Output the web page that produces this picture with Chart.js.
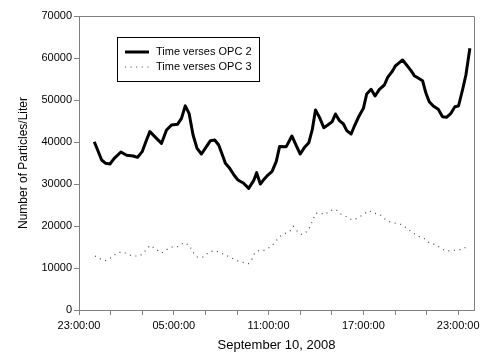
<!DOCTYPE html>
<html>
<head>
<meta charset="utf-8">
<script src="https://cdn.jsdelivr.net/npm/chart.js@4/dist/chart.umd.min.js"></script>
<style>
  html, body { margin: 0; padding: 0; background: #fff; }
  #wrap { width: 485px; height: 360px; }
</style>
</head>
<body>
<div id="wrap"><canvas id="chart" width="485" height="360"></canvas></div>
<script>
// horas contadas desde las 23:00 del día anterior
const horasOpc2 = [0.966, 1.434, 1.686, 1.958, 2.229, 2.653, 3.013, 3.430, 3.707, 3.998,
  4.232, 4.484, 4.907, 5.223, 5.539, 5.855, 6.234, 6.486, 6.726, 6.966,
  7.219, 7.472, 7.750, 8.065, 8.318, 8.590, 8.842, 9.076, 9.265, 9.537,
  9.808, 10.061, 10.421, 10.737, 11.053, 11.242, 11.476, 11.684, 11.956, 12.221,
  12.487, 12.695, 13.118, 13.472, 13.750, 14.002, 14.274, 14.546, 14.760, 14.969,
  15.221, 15.493, 15.746, 16.024, 16.232, 16.485, 16.737, 16.946, 17.224, 17.432,
  17.684, 18.000, 18.209, 18.487, 18.739, 19.011, 19.327, 19.535, 19.813, 20.021,
  20.274, 20.482, 20.735, 21.013, 21.221, 21.493, 21.745, 21.960, 22.168, 22.421,
  22.737, 23.008, 23.261, 23.539, 23.792, 24.019, 24.272, 24.487, 24.739]
const valoresOpc2 = [40070, 35710, 34920, 34760, 36110, 37620, 36830, 36670, 36350, 37700,
  40070, 42460, 40870, 39680, 42860, 44050, 44210, 45630, 48600, 46830,
  41670, 38490, 37140, 38890, 40310, 40480, 39290, 36900, 34920, 33730,
  32140, 30950, 30170, 28970, 30790, 32700, 30000, 31000, 32140, 33000,
  35400, 38900, 38890, 41430, 39130, 37140, 38730, 39840, 42860, 47620,
  45870, 43410, 44050, 44840, 46670, 45070, 44290, 42700, 41900, 43810,
  45870, 48020, 51430, 52540, 50950, 52540, 53570, 55400, 56750, 58100,
  58890, 59520, 58330, 56980, 55790, 55160, 54600, 51590, 49600, 48570,
  47780, 46030, 45870, 46830, 48410, 48570, 52380, 55950, 62300]

const horasOpc3 = [1.011, 1.371, 1.724, 2.084, 2.444, 2.798, 3.158, 3.518, 3.853, 4.168,
  4.503, 4.863, 5.223, 5.577, 5.937, 6.297, 6.632, 6.992, 7.181, 7.516,
  7.876, 8.230, 8.590, 8.950, 9.303, 9.644, 9.998, 10.358, 10.718, 10.971,
  11.135, 11.388, 11.747, 12.108, 12.398, 12.676, 13.055, 13.345, 13.560, 13.876,
  14.129, 14.482, 14.672, 14.823, 14.950, 15.221, 15.556, 15.897, 16.251, 16.567,
  16.926, 17.287, 17.621, 17.981, 18.335, 18.695, 19.055, 19.390, 19.750, 20.084,
  20.444, 20.779, 21.139, 21.493, 21.834, 22.188, 22.529, 22.863, 23.198, 23.558,
  23.918, 24.272, 24.632]
const valoresOpc3 = [12860, 12140, 11740, 12620, 13650, 13810, 13100, 12860, 12860, 13970,
  15400, 14520, 13570, 14440, 15080, 15080, 16030, 15400, 13890, 12540,
  12620, 13810, 14130, 13650, 13020, 12460, 11740, 11350, 11030, 12220,
  13730, 14130, 14210, 15000, 16030, 17460, 18250, 18730, 19920, 18490,
  17940, 18810, 20240, 21590, 22940, 23170, 22700, 23650, 23970, 22860,
  22220, 21430, 21830, 22700, 23650, 23020, 22700, 21590, 20870, 20630,
  20320, 19370, 18330, 17540, 17060, 15950, 15560, 14840, 14050, 14130,
  14290, 14440, 15320]

const etiquetasX = ["23:00:00", "05:00:00", "11:00:00", "17:00:00", "23:00:00"]
const ticksY = [0, 10000, 20000, 30000, 40000, 50000, 60000, 70000]

const fuente = "'Liberation Sans', Arial, sans-serif"
const grisEje = "#808080"

const puntos = (xs, ys) => xs.map((x, i) => ({ x: x, y: ys[i] }))

// marco alrededor del área de datos
const marco = {
  id: "marco",
  afterDraw(chart) {
    const { ctx, chartArea } = chart
    ctx.save()
    ctx.strokeStyle = grisEje
    ctx.lineWidth = 1
    ctx.beginPath()
    ctx.moveTo(chartArea.left, chartArea.top + 0.5)
    ctx.lineTo(chartArea.right + 0.5, chartArea.top + 0.5)
    ctx.lineTo(chartArea.right + 0.5, chartArea.bottom)
    ctx.stroke()
    ctx.restore()
  },
}

// leyenda dentro del gráfico, con borde
const leyenda = {
  id: "leyenda",
  afterDraw(chart) {
    const { ctx, chartArea } = chart
    const x0 = chartArea.left + 38
    const y0 = chartArea.top + 21
    ctx.save()
    ctx.fillStyle = "#fff"
    ctx.fillRect(x0, y0, 142, 44)
    ctx.strokeStyle = "#000"
    ctx.lineWidth = 1
    ctx.strokeRect(x0 + 0.5, y0 + 0.5, 142, 44)
    ctx.font = "11px " + fuente
    ctx.textBaseline = "middle"
    chart.data.datasets.forEach((ds, i) => {
      const y = y0 + 15 + i * 15
      ctx.strokeStyle = ds.borderColor
      ctx.lineWidth = ds.borderWidth
      ctx.setLineDash(ds.borderDash || [])
      ctx.beginPath()
      ctx.moveTo(x0 + 8, y)
      ctx.lineTo(x0 + 32, y)
      ctx.stroke()
      ctx.setLineDash([])
      ctx.fillStyle = "#000"
      ctx.fillText(ds.label, x0 + 39, y)
    })
    ctx.restore()
  },
}

const ctx = document.getElementById("chart").getContext("2d")
new Chart(ctx, {
  type: "line",
  data: {
    datasets: [
      {
        label: "Time verses OPC 2",
        data: puntos(horasOpc2, valoresOpc2),
        borderColor: "#000",
        borderWidth: 3,
        pointRadius: 0,
        tension: 0,
        borderJoinStyle: "round",
      },
      {
        label: "Time verses OPC 3",
        data: puntos(horasOpc3, valoresOpc3),
        borderColor: "#444",
        borderWidth: 1.2,
        borderDash: [1, 4.6],
        pointRadius: 0,
        tension: 0,
      },
    ],
  },
  options: {
    responsive: false,
    animation: false,
    layout: { padding: { top: 16, right: 11, left: 0, bottom: 0 } },
    plugins: {
      legend: { display: false },
      tooltip: { enabled: false },
    },
    scales: {
      x: {
        type: "linear",
        min: 0,
        max: 25,
        afterFit: (s) => { s.height = 50 },
        border: { color: grisEje, width: 1 },
        grid: { drawOnChartArea: false, drawTicks: true, tickLength: 5, color: grisEje },
        ticks: {
          stepSize: 2,
          autoSkip: false,
          includeBounds: false,
          maxRotation: 0,
          padding: 4,
          color: "#000",
          font: { size: 11, family: fuente },
          callback: (v) => (v % 6 === 0 ? etiquetasX[v / 6] : ""),
        },
        title: {
          display: true,
          text: "September 10, 2008",
          color: "#000",
          font: { size: 13, family: fuente },
          padding: { top: 0, bottom: 7 },
        },
      },
      y: {
        min: 0,
        max: 70000,
        afterFit: (s) => { s.width = 79 },
        afterBuildTicks: (s) => { s.ticks = ticksY.map((v) => ({ value: v })) },
        border: { color: grisEje, width: 1 },
        grid: { drawOnChartArea: false, drawTicks: true, tickLength: 5, color: grisEje },
        ticks: {
          padding: 2,
          color: "#000",
          font: { size: 11, family: fuente },
          callback: (v) => String(v),
        },
        title: {
          display: true,
          text: "Number of Particles/Liter",
          color: "#000",
          font: { size: 12, family: fuente },
          padding: { top: 16, bottom: 0 },
        },
      },
    },
  },
  plugins: [marco, leyenda],
})
</script>
</body>
</html>
